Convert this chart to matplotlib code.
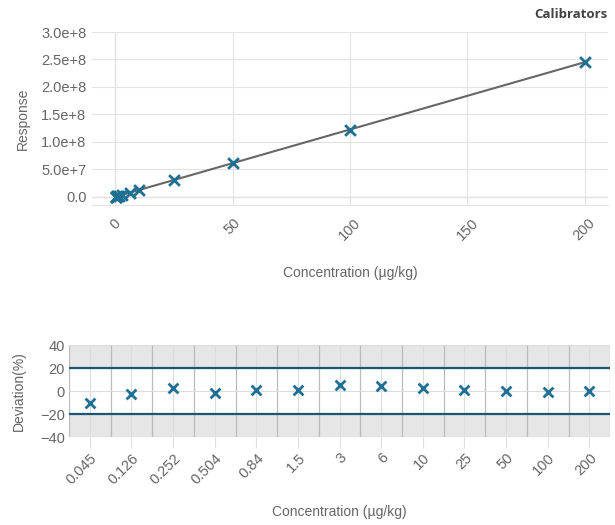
import numpy as np
import matplotlib
matplotlib.use("Agg")
import matplotlib.pyplot as plt

plt.rcParams["font.family"] = ["Liberation Sans", "DejaVu Sans"]

# calibrator data
conc_labels = ["0.045", "0.126", "0.252", "0.504", "0.84", "1.5", "3", "6",
               "10", "25", "50", "100", "200"]
conc = [0.045, 0.126, 0.252, 0.504, 0.84, 1.5, 3, 6, 10, 25, 50, 100, 200]
response = [4.96e4, 1.50e5, 3.18e5, 6.05e5, 1.04e6, 1.86e6, 3.86e6, 7.64e6,
            1.26e7, 3.09e7, 6.13e7, 1.21e8, 2.45e8]
deviation = [-10, -3, 3, -2, 1, 1, 5, 4, 3, 1, 0, -1, 0]
fit_x = [0, 200]
fit_y = [0, 2.45e8]
limits = [-20, 20]

MARK = "#1d6f93"
LINE = "#1a5673"
TXT = "#666666"
GRID = "#e3e3e3"
TS = 10.5

fig = plt.figure(figsize=(6.15, 5.25), dpi=100)

# ---------------- calibration curve ----------------
ax = fig.add_axes([0.1496, 0.6095, 0.839, 0.3295])
ax.plot(fit_x, fit_y, color="#666666", lw=1.5, zorder=2)
ax.scatter(conc, response, marker="x", s=60, color=MARK, linewidths=2, zorder=3)
ax.set_xlim(-10, 210)
ax.set_ylim(-1.5e7, 3.0e8)
ax.set_xticks([0, 50, 100, 150, 200])
yt = np.arange(0, 3.01e8, 5e7)
ax.set_yticks(yt)
ax.set_yticklabels([f"{v:.1e}".replace("e+0", "e+") if v else "0.0" for v in yt])
ax.grid(color=GRID, lw=0.8)
ax.axvline(0, color="#aaaaaa", lw=0.8, zorder=1)
ax.axhline(0, color="#cccccc", lw=0.9, zorder=1)
for s in ax.spines.values():
    s.set_visible(False)
ax.spines["bottom"].set_visible(True)
ax.spines["bottom"].set_color("#e3e3e3")
ax.tick_params(length=0, labelsize=TS, colors=TXT, pad=4)
ax.tick_params(axis="x", pad=8)
plt.setp(ax.get_xticklabels(), rotation=45, ha="center")
ax.set_ylabel("Response", color=TXT, fontsize=10, labelpad=8)
ax.set_xlabel("Concentration (µg/kg)", color=TXT, fontsize=10, labelpad=16)
ax.set_title("Calibrators", loc="right", fontsize=9.5, color="#444444",
             fontweight="bold", family=["Open Sans", "DejaVu Sans"], pad=10)

# ---------------- deviation plot ----------------
bx = fig.add_axes([0.1122, 0.1676, 0.880, 0.1752])
pos = np.arange(len(conc_labels))
bx.set_xlim(-0.5, len(conc_labels) - 0.5)
bx.set_ylim(-40, 40)
bx.axhspan(limits[1], 40, color="#e6e6e6", zorder=0)
bx.axhspan(-40, limits[0], color="#e6e6e6", zorder=0)
for b in np.arange(-0.5, len(conc_labels) + 0.5):
    bx.axvline(b, color="#bbbbbb", lw=0.9, zorder=1)
bx.set_xticks(pos)
bx.set_xticklabels(conc_labels)
bx.set_yticks([-40, -20, 0, 20, 40])
bx.grid(color="#dcdcdc", lw=0.8, zorder=1)
for lim in limits:
    bx.axhline(lim, color=LINE, lw=1.6, zorder=2)
bx.scatter(pos, deviation, marker="x", s=50, color=MARK, linewidths=2, zorder=3)
for s in bx.spines.values():
    s.set_visible(False)
bx.axhline(40, color="#cccccc", lw=0.8, zorder=1)
bx.axhline(-40, color="#cccccc", lw=0.8, zorder=1)
bx.tick_params(axis="y", length=0, labelsize=TS, colors=TXT, pad=3)
bx.tick_params(axis="x", length=8, color="#e0e0e0", labelsize=TS,
               labelcolor=TXT, pad=2)
plt.setp(bx.get_xticklabels(), rotation=45, ha="right", rotation_mode="anchor")
bx.set_ylabel("Deviation(%)", color=TXT, fontsize=10, labelpad=10)
bx.set_xlabel("Concentration (µg/kg)", color=TXT, fontsize=10, labelpad=13)

fig.savefig("out.png", dpi=100, facecolor="white")
